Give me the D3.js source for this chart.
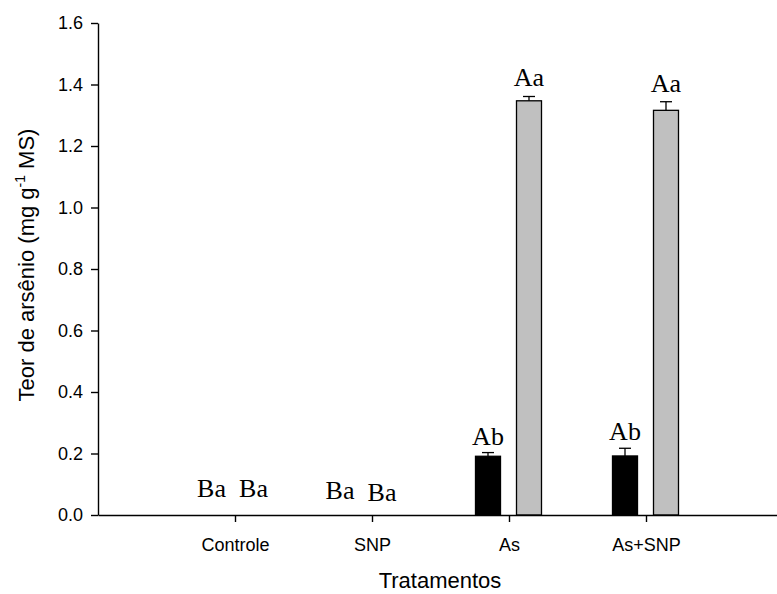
<!DOCTYPE html>
<html>
<head>
<meta charset="utf-8">
<script src="https://cdn.jsdelivr.net/npm/d3@7"></script>
<style>
  html, body { margin: 0; padding: 0; background: #fff; }
  svg { display: block; }
</style>
</head>
<body>
<svg id="chart" width="777" height="594"></svg>
<script>
// Arsenic content by treatment, two series per treatment
const categories = ["Controle", "SNP", "As", "As+SNP"];
const seriesDark  = [0.0, 0.0, 0.191, 0.192];   // black bars
const seriesLight = [0.0, 0.0, 1.347, 1.316];   // grey bars
const errDark     = [0.0, 0.0, 0.012, 0.025];
const errLight    = [0.0, 0.0, 0.014, 0.028];
const lettersDark  = ["Ba", "Ba", "Ab", "Ab"];
const lettersLight = ["Ba", "Ba", "Aa", "Aa"];
const yTicks = [0, 0.2, 0.4, 0.6, 0.8, 1.0, 1.2, 1.4, 1.6];

const svg = d3.select("#chart");
const sansFont = "'Liberation Sans', Arial, sans-serif";
const serifFont = "'Liberation Serif', 'Times New Roman', serif";

const plotLeft = 98, plotRight = 777, plotTop = 23, plotBottom = 515;

// Categories sit at positions 1..4 on a 0..5 span
const x = d3.scaleLinear().domain([0, 5]).range([plotLeft, 783]);
const y = d3.scaleLinear().domain([0, 1.6]).range([plotBottom, plotTop]);

const barW = 25;
const offDark = -21, offLight = 20;

const rows = categories.map((c, i) => ({
  cat: c, i,
  dark: seriesDark[i], light: seriesLight[i],
  eDark: errDark[i], eLight: errLight[i],
  lDark: lettersDark[i], lLight: lettersLight[i]
}));

// Y axis
const yAxis = d3.axisLeft(y).tickValues(yTicks).tickFormat(d3.format(".1f"))
  .tickSizeInner(7).tickSizeOuter(0).tickPadding(8);
const gy = svg.append("g").attr("transform", `translate(${plotLeft},0)`).call(yAxis);
gy.select(".domain").attr("stroke", "#000").attr("stroke-width", 1.4);
gy.selectAll(".tick line").attr("stroke", "#000").attr("stroke-width", 1.4);
gy.selectAll(".tick text").attr("font-family", sansFont).attr("font-size", 18).attr("fill", "#000");

// Bars
function drawBars(key, errKey, off, fill) {
  svg.append("g").selectAll("rect").data(rows).join("rect")
    .attr("x", d => x(d.i + 1) + off - barW / 2)
    .attr("y", d => y(d[key]))
    .attr("width", barW)
    .attr("height", d => y(0) - y(d[key]))
    .attr("fill", fill)
    .attr("stroke", d => d[key] > 0 ? "#000" : "none")
    .attr("stroke-width", 1.3);
  // upper error bars
  const eb = svg.append("g").selectAll("g").data(rows.filter(d => d[errKey] > 0)).join("g");
  eb.append("line")
    .attr("x1", d => x(d.i + 1) + off).attr("x2", d => x(d.i + 1) + off)
    .attr("y1", d => y(d[key])).attr("y2", d => y(d[key] + d[errKey]))
    .attr("stroke", "#000").attr("stroke-width", 1.3);
  eb.append("line")
    .attr("x1", d => x(d.i + 1) + off - 6).attr("x2", d => x(d.i + 1) + off + 6)
    .attr("y1", d => y(d[key] + d[errKey])).attr("y2", d => y(d[key] + d[errKey]))
    .attr("stroke", "#000").attr("stroke-width", 1.3);
}
drawBars("dark", "eDark", offDark, "#000");
drawBars("light", "eLight", offLight, "#c0c0c0");

// X axis
const xAxis = d3.axisBottom(x).tickValues([1, 2, 3, 4])
  .tickFormat(d => categories[d - 1]).tickSizeInner(7).tickSizeOuter(0);
const gx = svg.append("g").attr("transform", `translate(0,${plotBottom})`).call(xAxis);
gx.select(".domain").attr("stroke", "#000").attr("stroke-width", 1.4);
gx.selectAll(".tick line").attr("stroke", "#000").attr("stroke-width", 1.4);
gx.selectAll(".tick text").attr("font-family", sansFont).attr("font-size", 18).attr("fill", "#000")
  .attr("y", 36).attr("dy", null);

// Significance letters above each bar
const letterNudge = [[-2.5, -1.5], [-11, -10], [0, 0], [0, 0]];
function drawLetters(key, errKey, lKey, off, side) {
  svg.append("g").selectAll("text").data(rows).join("text")
    .attr("x", d => x(d.i + 1) + off + letterNudge[d.i][side])
    .attr("y", d => {
      const top = y(d[key] + d[errKey]);
      if (d[key] > 0) return top - (side === 0 ? 8 : 10);
      return top - 18 + (d.i === 1 ? (side === 0 ? 2 : 4) : 0);
    })
    .attr("text-anchor", "middle")
    .attr("font-family", serifFont).attr("font-size", 26).attr("fill", "#000")
    .text(d => d[lKey]);
}
drawLetters("dark", "eDark", "lDark", offDark, 0);
drawLetters("light", "eLight", "lLight", offLight, 1);

// Axis titles
svg.append("text")
  .attr("x", 440).attr("y", 588)
  .attr("text-anchor", "middle")
  .attr("font-family", sansFont).attr("font-size", 22).attr("fill", "#000")
  .text("Tratamentos");

const yt = svg.append("text")
  .attr("transform", `translate(34,265) rotate(-90)`)
  .attr("text-anchor", "middle")
  .attr("font-family", sansFont).attr("font-size", 22).attr("fill", "#000");
yt.append("tspan").text("Teor de arsênio (mg g");
yt.append("tspan").attr("dy", -9).attr("font-size", 14).text("-1");
yt.append("tspan").attr("dy", 9).text(" MS)");
</script>
</body>
</html>
